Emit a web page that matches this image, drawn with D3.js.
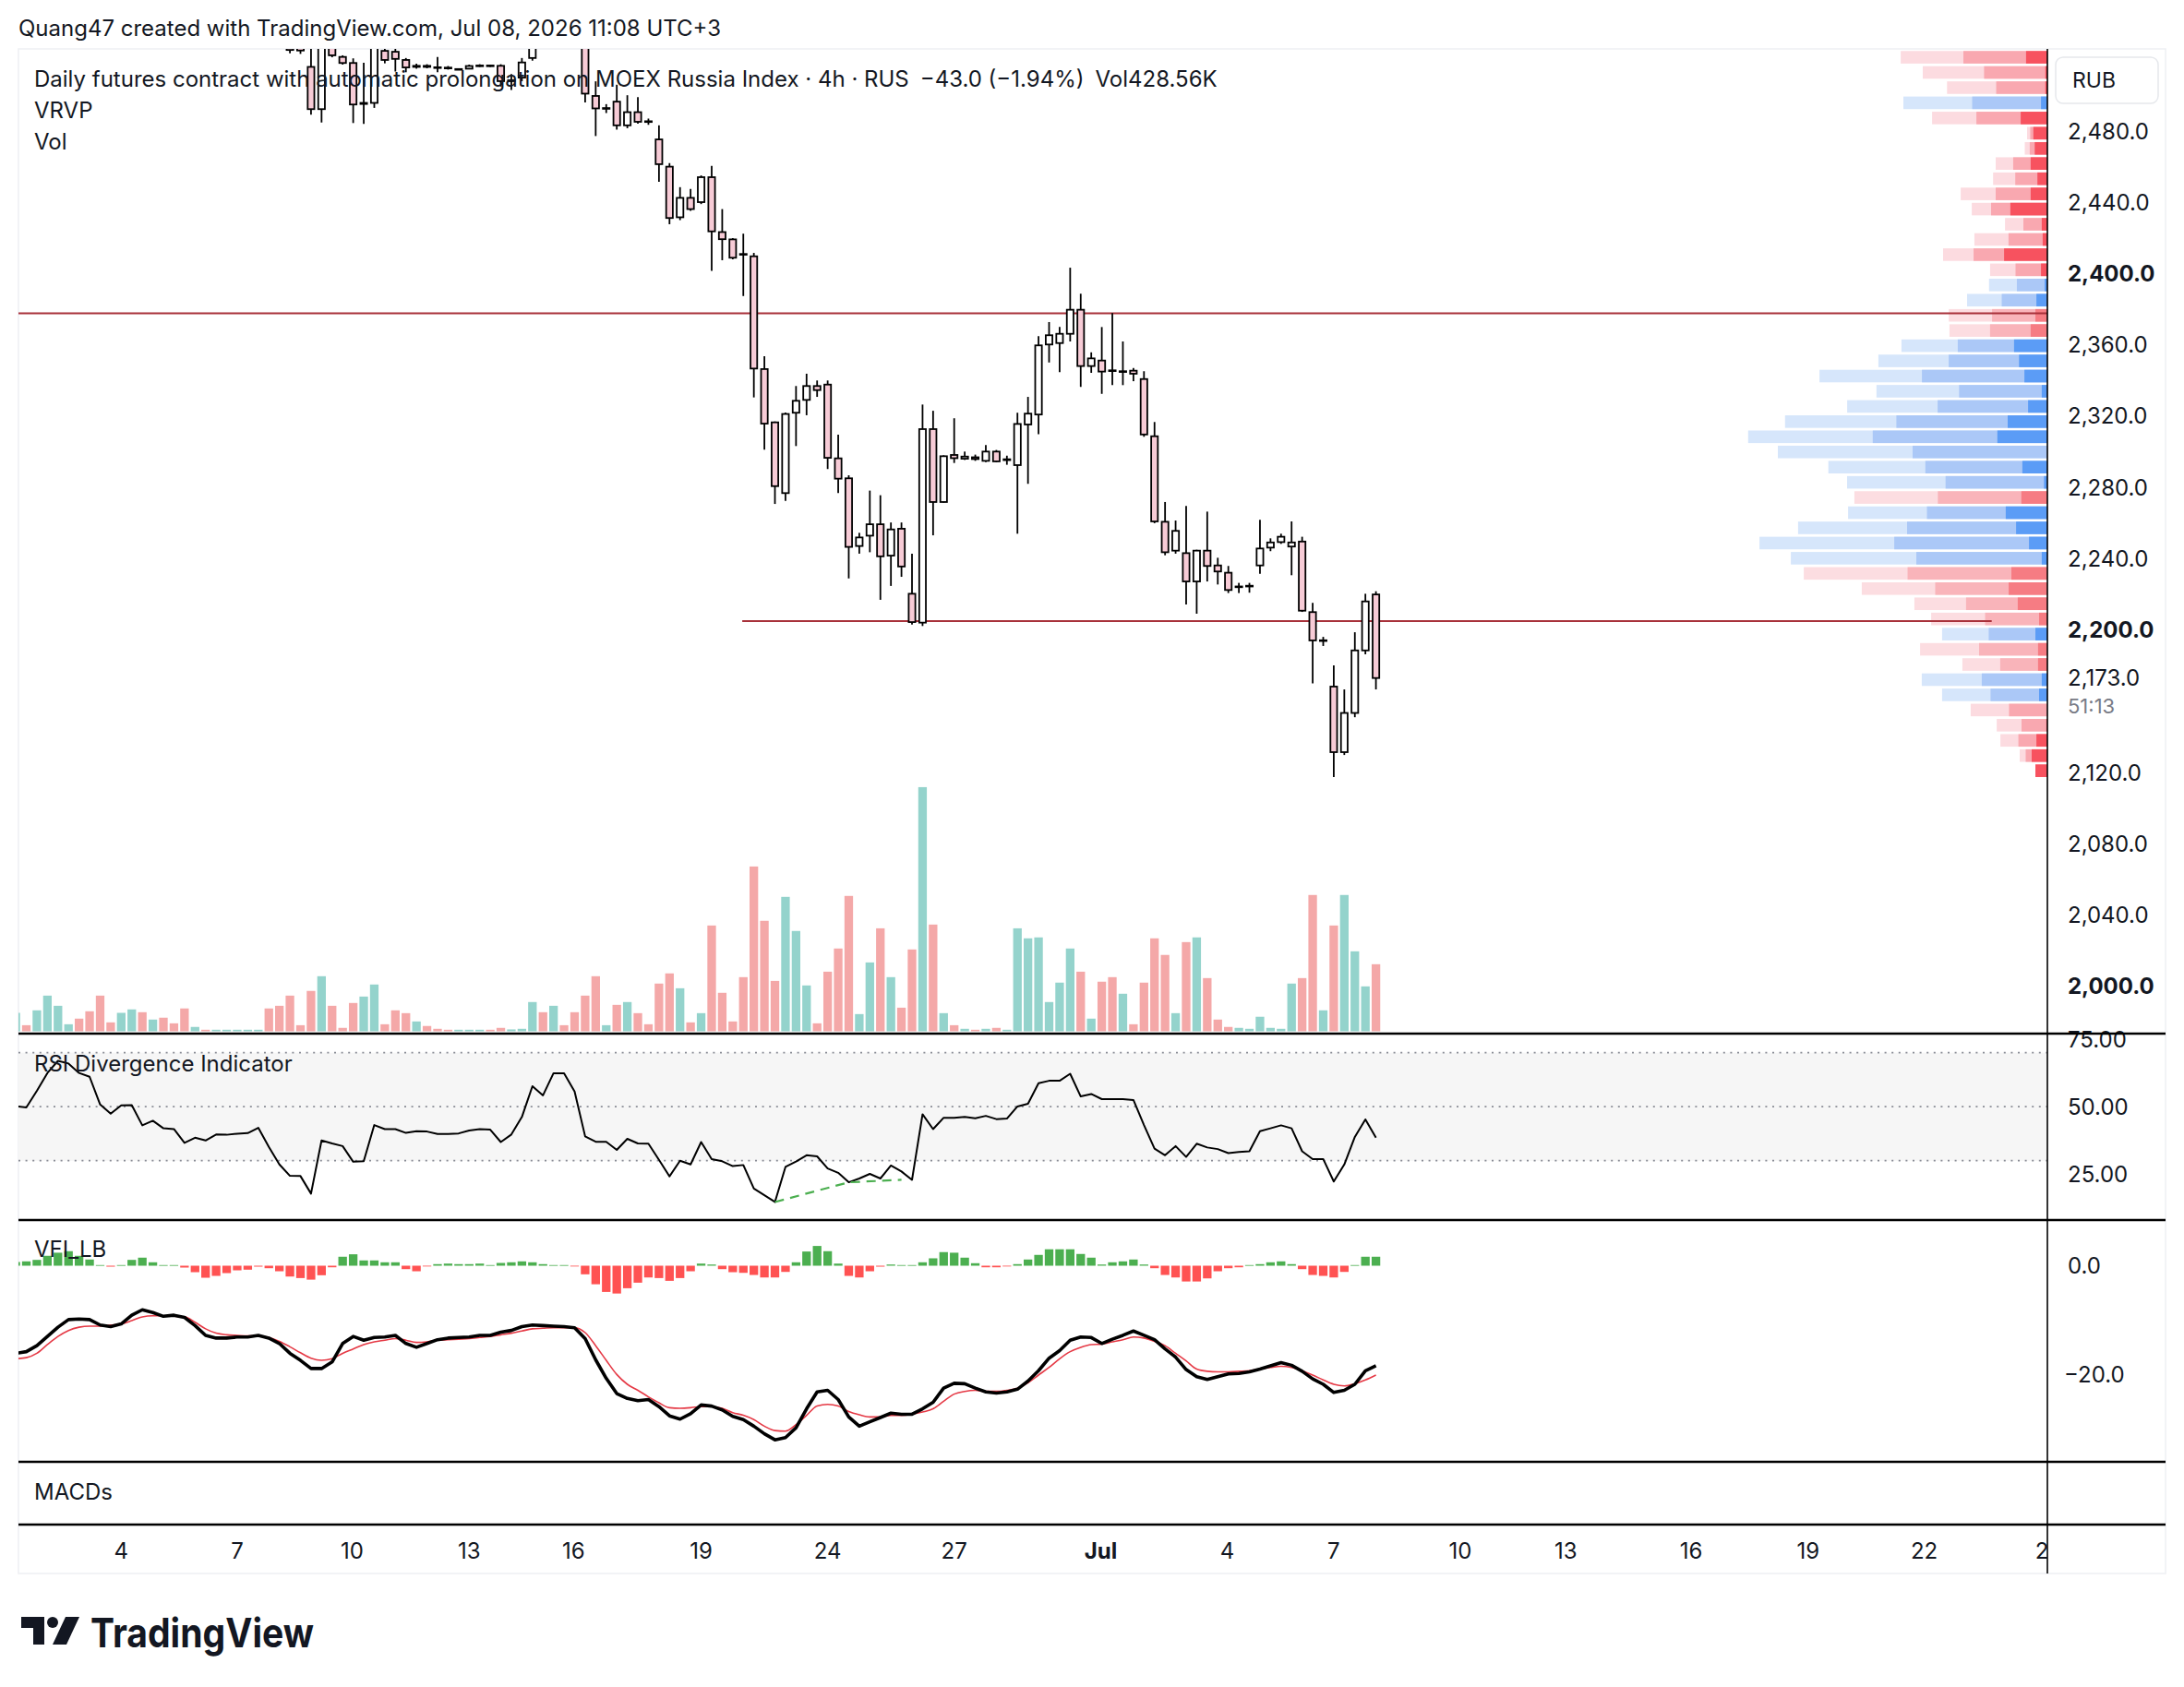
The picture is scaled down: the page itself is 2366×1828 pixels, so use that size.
<!DOCTYPE html>
<html lang="en">
<head>
<meta charset="UTF-8">
<title>MOEX Russia Index futures, 4h</title>
<script src="https://d3js.org/d3.v7.min.js"></script>
<style>
  body { margin: 0; background: #fff; }
  svg text { font-family: Inter, "Noto Sans", sans-serif; fill: #131722; }
</style>
</head>
<body>
<svg id="chart" width="2366" height="1828"></svg>
<script>
// ---- candles (4h bars, oldest first) ----
const opens = [2550,2556,2554,2563,2574,2582,2585,2580,2574,2562,
  2559,2565,2567,2558,2561,2557,2555,2547,2549,2548,
  2549,2549.5,2550,2550.5,2552,2546,2540,2529,2516,2492.3,
  2527,2521.6,2518.2,2495.2,2495.8,2525,2524.5,2519.9,2516,2516.6,
  2515.8,2515.6,2514.5,2515,2516.5,2516.8,2516.6,2508,2510,2521,
  2545,2540,2550,2546,2530,2499.7,2492.5,2496.5,2483.2,2490.6,
  2485.5,2475.3,2460,2431.6,2442.5,2440.1,2454.1,2423.3,2419.2,2411,
  2409.7,2346.4,2316.5,2276.8,2321.9,2329.1,2336.9,2337.7,2296.3,2285.1,
  2247.1,2252.9,2259.3,2241.7,2256.8,2220.3,2204.1,2312.7,2271.8,2298.2,
  2296.1,2296.9,2294.9,2300.1,2295.3,2292.5,2315.3,2320.9,2360.2,2361,
  2366.2,2379.7,2348.1,2351.2,2345.7,2344.9,2345.5,2340.8,2308.7,2260.7,
  2244.5,2243.1,2227.2,2244.5,2236.2,2232.1,2224.1,2224.5,2236.2,2246.2,
  2249.3,2246.8,2249.6,2210,2193.8,2168.2,2131.4,2153.4,2188.5,2219.9];
const highs = [2559,2558,2566,2577,2586,2588,2587,2582,2576,2564,
  2567,2570,2568,2563,2562,2558,2556,2550,2550,2550,
  2550,2551,2551,2553,2553,2547,2542,2533,2527,2534,
  2532,2522.5,2520.8,2518.3,2533,2530,2527,2521,2517.8,2517.5,
  2521.6,2516.5,2515.2,2517.3,2517.5,2517.2,2517.5,2512,2521,2540,
  2552,2556,2553,2550,2535,2507.9,2495.1,2506,2500.1,2499.1,
  2487,2483.2,2462,2448.5,2447.5,2455.1,2460.4,2436.2,2419.9,2422.4,
  2411.6,2353.6,2317,2322,2336.9,2343.8,2340,2340,2309.6,2286.8,
  2254.5,2278.2,2275.6,2260.3,2260.3,2242.8,2326.5,2323,2298,2318.8,
  2300.1,2298.4,2303.7,2301,2297.8,2321.9,2330.8,2364.9,2372.8,2370,
  2403.3,2388.7,2355.8,2370,2377.8,2361.9,2347,2345.2,2316.7,2271.8,
  2261.4,2269.6,2245,2266.4,2240.5,2235.9,2226.4,2226.4,2261.8,2251.4,
  2254,2260.9,2252.3,2215.2,2196.1,2180.1,2166.6,2198.7,2220.3,2221.7];
const lows = [2547,2551,2552,2561,2571,2579,2577,2571,2559,2556,
  2557,2563,2555,2556,2554,2553,2544,2546,2547,2547,
  2548,2549,2549,2550,2543,2536,2523.6,2523.3,2489.2,2484.8,
  2521.4,2517.3,2484.5,2484,2493,2518,2513.4,2513,2515,2515.2,
  2513,2514.5,2514.2,2514.8,2516,2516,2505,2503,2508,2519.5,
  2536,2537,2544,2530,2496,2477.2,2490.1,2480.8,2481.6,2484.1,
  2483.5,2451.5,2427.7,2430,2435.2,2439,2401.5,2407.5,2408,2387.4,
  2330.5,2301.2,2270.7,2272.4,2303.2,2320.5,2330.8,2290.3,2276.8,2228.9,
  2242.8,2243.6,2216.9,2224.7,2229.8,2203,2202.2,2253.1,2271.5,2293.7,
  2295.4,2294.9,2294.2,2294.2,2292.7,2254,2282,2309.8,2350.1,2344.7,
  2361.9,2336.4,2344.3,2332.5,2337.4,2337.4,2339.6,2308.4,2259.9,2241.9,
  2242.8,2214.3,2209.1,2227.2,2225.5,2220.7,2220.7,2220.9,2231.5,2244.2,
  2248.3,2230.7,2210.1,2170,2191,2117.4,2129.8,2151,2186.3,2166.6];
const closes = [2556,2554,2563,2574,2582,2585,2580,2574,2562,2559,
  2565,2567,2558,2561,2557,2555,2547,2549,2548,2549,
  2549.5,2550,2550.5,2552,2546,2540,2525.5,2525.2,2492.3,2530,
  2522.5,2518.2,2494.9,2495.8,2529,2519.9,2520.5,2515.7,2516.6,2516,
  2515.4,2515.2,2514.8,2516.5,2516.8,2516.5,2508,2508.5,2518.5,2535,
  2540,2550,2546,2534,2501,2492.7,2492.9,2483.2,2490.6,2485.2,
  2485.2,2461.4,2431.2,2442.5,2436.2,2454.1,2423.7,2419.3,2408.9,2410.7,
  2346.7,2315.8,2280.7,2321.2,2328.6,2336.9,2334.6,2296.6,2284.9,2246.6,
  2251.9,2259.3,2241.3,2256.4,2235.6,2204.4,2312.7,2271.8,2297.5,2296.4,
  2297.3,2295.9,2300.1,2294.6,2295.8,2315.6,2321.4,2359.7,2365.4,2366.2,
  2379.7,2348.1,2352.4,2345,2345.3,2345.2,2343.8,2309.7,2260.9,2243.6,
  2255.6,2227.2,2244.5,2235.9,2232.8,2222.4,2224.4,2224.8,2245.7,2249.1,
  2252.3,2249.1,2210.8,2194.1,2194.2,2131.4,2153.4,2188.5,2216,2173];
// volume, thousands
const volumes = [118,39,134,228,163,45,81,128,228,57,
  118,140,122,75,87,51,146,28,10,10,
  10,10,10,10,146,163,228,39,258,352,
  163,22,181,222,299,45,134,116,63,34,
  16,10,10,10,10,10,22,12,16,187,
  122,163,39,122,228,352,39,169,187,116,
  45,305,370,275,57,116,676,246,63,346,
  1053,706,322,859,641,293,51,381,529,865,
  110,440,658,346,151,523,1560,682,116,39,
  16,10,16,22,10,658,594,600,187,311,
  529,381,81,317,346,240,45,311,594,488,
  116,570,600,340,75,28,22,16,93,22,
  16,305,340,871,134,676,871,511,287,428.56];

// ---- RSI Divergence Indicator ----
const rsi = [50.2,49.7,55.9,62.5,67.0,66.0,62.5,61.1,50.8,47.4,
  50.5,50.6,43.1,44.8,42.0,41.7,36.6,38.5,37.5,39.7,
  39.6,40.0,40.2,42.2,35.1,28.6,24.4,24.3,17.8,37.5,
  36.4,35.4,29.6,29.8,43.2,41.7,41.7,40.3,40.9,40.8,
  39.9,39.9,40.1,41.2,41.7,41.5,36.9,39.7,46.2,57.6,
  54.2,62.4,62.4,55.6,39.0,37.0,37.0,34.0,38.1,36.4,
  36.3,30.3,24.2,30.0,28.6,36.9,30.6,29.8,28.0,28.4,
  19.7,17.2,14.7,27.7,29.7,32.0,31.6,27.1,25.5,22.0,
  23.4,25.1,23.4,28.2,26.0,22.9,47.2,41.7,45.9,45.9,
  46.2,45.7,46.6,45.4,45.6,50.1,51.1,58.7,59.6,59.6,
  62.2,53.8,54.7,52.8,52.8,52.8,52.5,43.2,34.5,32.0,
  35.4,31.4,36.3,34.9,34.3,32.8,33.2,33.5,40.9,42.0,
  43.1,42.0,33.5,30.6,30.6,22.3,28.6,38.8,45.3,38.5];
const rsiBullDiv = [[72, 14.7], [79, 22.0], [84, 22.9]];

// ---- VFI_LB ----
const vfi = [-16.1,-15.8,-14.7,-13.0,-11.3,-9.9,-9.8,-9.9,-10.9,-11.2,
  -10.7,-9.1,-8.1,-8.6,-9.3,-9.1,-9.5,-11.0,-12.8,-13.3,
  -13.3,-13.1,-13.1,-12.8,-13.3,-14.3,-16.1,-17.4,-18.9,-18.9,
  -17.7,-14.3,-13.0,-13.7,-13.2,-13.1,-12.8,-14.3,-15.0,-14.3,
  -13.6,-13.3,-13.2,-13.1,-12.8,-12.8,-12.2,-11.9,-11.2,-10.9,
  -11.0,-11.1,-11.2,-11.4,-13.4,-17.3,-20.7,-23.5,-24.4,-24.8,
  -24.6,-25.9,-27.6,-28.2,-27.2,-25.6,-25.8,-26.5,-27.7,-28.3,
  -29.5,-30.9,-32.0,-31.6,-29.8,-26.3,-23.2,-22.9,-24.6,-27.8,
  -29.5,-28.7,-27.9,-27.1,-27.3,-27.3,-26.3,-25.1,-22.5,-21.6,
  -21.7,-22.5,-23.2,-23.4,-23.2,-22.7,-21.2,-19.3,-17.0,-15.6,
  -13.7,-13.1,-13.2,-14.3,-13.5,-12.8,-12.0,-12.8,-13.6,-15.3,
  -16.8,-19.1,-20.4,-20.9,-20.4,-19.9,-19.8,-19.5,-19.0,-18.4,
  -17.8,-18.3,-19.4,-20.8,-21.8,-23.3,-22.9,-21.8,-19.3,-18.4];
const vfiSignal = [-17.1,-16.9,-16.1,-14.5,-13.0,-11.9,-11.3,-11.1,-11.1,-10.9,
  -10.7,-10.1,-9.4,-9.2,-9.2,-9.3,-9.4,-10.4,-11.6,-12.4,
  -12.7,-12.8,-12.9,-12.9,-13.2,-13.9,-14.9,-16.0,-17.0,-17.4,
  -17.1,-16.1,-15.3,-14.5,-14.0,-13.7,-13.4,-13.7,-14.1,-14.0,
  -13.7,-13.6,-13.5,-13.4,-13.2,-13.0,-12.7,-12.4,-12.0,-11.6,
  -11.5,-11.4,-11.4,-11.4,-12.3,-14.7,-17.4,-20.0,-21.8,-22.9,
  -24.1,-25.2,-26.1,-26.2,-26.1,-25.9,-25.9,-26.2,-27.0,-27.5,
  -28.3,-29.5,-30.3,-30.4,-29.2,-27.5,-25.8,-25.5,-25.8,-26.8,
  -27.4,-27.8,-27.8,-27.5,-27.5,-27.3,-26.9,-26.3,-24.9,-23.6,
  -23.1,-22.9,-23.1,-23.1,-22.9,-22.5,-21.5,-20.1,-18.7,-17.1,
  -15.8,-15.0,-14.5,-14.4,-14.0,-13.6,-13.1,-13.3,-13.9,-14.7,
  -16.1,-17.5,-19.0,-19.4,-19.5,-19.5,-19.4,-19.3,-19.0,-18.7,
  -18.5,-18.7,-19.3,-20.1,-21.0,-21.8,-22.1,-21.7,-21.0,-20.1];
const vfiHist = [0.68,0.80,1.07,1.82,2.39,2.67,1.82,1.14,0.12,-0.17,
  0.12,1.07,1.48,0.63,0.12,0.12,-0.34,-1.19,-2.21,-1.87,
  -1.36,-0.85,-0.73,-0.17,-0.46,-1.02,-1.99,-2.27,-2.56,-1.75,
  -0.29,1.65,2.10,0.97,0.97,0.63,0.63,-0.63,-1.02,-0.05,
  0.29,0.39,0.29,0.29,0.39,0.12,0.51,0.63,0.80,0.63,
  0.29,0.12,0.12,-0.05,-1.58,-3.41,-4.82,-5.11,-4.14,-3.12,
  -2.16,-2.27,-2.78,-2.27,-1.02,0.39,0.22,-0.63,-1.19,-1.31,
  -1.70,-2.16,-2.16,-1.14,0.63,2.61,3.63,2.67,0.39,-1.87,
  -2.16,-1.02,-0.17,0.22,0.12,0.12,0.63,1.36,2.50,2.39,
  1.48,0.46,-0.29,-0.29,-0.12,0.29,1.14,1.99,3.02,3.02,
  3.02,2.16,1.48,0.22,0.63,0.80,1.14,0.22,-0.46,-1.70,
  -2.16,-2.90,-2.90,-2.33,-1.02,-0.46,-0.29,0.12,0.29,0.63,
  0.80,0.29,-0.63,-1.70,-1.87,-2.16,-1.14,0.12,1.65,1.65];

// ---- visible range volume profile, rows from top to bottom ----
const vpTopPrice = 2521.4, vpRowSize = 8.52;
const vpTotal = [158.9,135.0,108.7,156.0,124.9,22.0,24.5,56.0,58.8,93.9,
  81.9,45.9,79.1,113.0,62.1,63.2,87.0,106.8,106.1,158.1,
  183.1,246.9,185.2,216.9,284.2,324.2,292.0,237.3,217.0,209.1,
  215.9,270.1,311.9,277.9,263.9,201.1,144.1,125.9,114.1,137.9,
  92.1,136.1,114.1,83.1,54.9,50.9,30.0,13.0];
const vpDelta = [23.1,2.2,2.2,6.9,28.9,15.2,13.7,18.1,10.8,18.1,
  40.1,6.1,5.1,46.9,6.9,2.9,11.9,13.0,18.1,36.1,
  30.7,24.9,6.1,20.9,43.0,54.2,0,27.1,3.6,28.2,
  45.1,33.9,19.9,6.1,39.0,41.9,32.1,9.0,13.0,10.1,
  10.1,6.1,9.0,0,1.1,11.9,17.0,13.0];
const vpSide = ["d","d","d","u","d","d","d","d","d","d",
  "d","d","d","d","d","u","u","d","d","u",
  "u","u","u","u","u","u","u","u","u","d",
  "u","u","u","u","d","d","d","d","u","d",
  "d","u","u","d","d","d","d","d"];
const vpValueArea = [17, 40];

// ---- drawn levels ----
const levels = [{ price: 2377.7, from: -2, to: 200 }, { price: 2205, from: 68.9, to: 187.4 }];

// ---- axes ----
const priceTicks = [2480, 2440, 2400, 2360, 2320, 2280, 2240, 2200, 2120, 2080, 2040, 2000];
const boldPrices = [2400, 2200, 2000];
const lastPrice = 2173.0, countdown = "51:13";
const rsiTicks = [75, 50, 25];
const vfiTicks = [0, -20];
const dateTickIndex = [10, 21, 31.9, 43, 52.9, 65, 77, 89, 102.9, 114.9, 125, 137, 147, 158.9, 170, 181, 192.8];
const dateTickLabels = ["4", "7", "10", "13", "16", "19", "24", "27", "Jul", "4", "7", "10", "13", "16", "19", "22", "25"];

const svg = d3.select("#chart");
const L = 20, R = 2346, AX = 2218;
const paneMain = [53, 1119], paneRsi = [1120, 1321], paneVfi = [1322, 1583];
const labelSize = "24px";

const x = d3.scaleLinear().domain([0, 129]).range([17.1, 1490.6]);
const y = d3.scaleLinear().domain([2000, 2480]).range([1068.7, 142]);
const yVol = d3.scaleLinear().domain([0, 1000]).range([1117.5, 947.9]);
const yR = d3.scaleLinear().domain([30, 70]).range([1257.7, 1140.7]);
const yV = d3.scaleLinear().domain([-20, 0]).range([1489.4, 1371.5]);
const vpW = d3.scaleLinear().domain([0, 100]).range([0, 100]);

const defs = svg.append("defs");
function clip(id, x0, y0, x1, y1) {
  defs.append("clipPath").attr("id", id).append("rect")
    .attr("x", x0).attr("y", y0).attr("width", x1 - x0).attr("height", y1 - y0);
}
clip("cMain", L, paneMain[0], AX, paneMain[1]);
clip("cRsi", L, paneRsi[0], AX, paneRsi[1]);
clip("cVfi", L, paneVfi[0], AX, paneVfi[1]);
clip("cTime", L, 1653, AX, 1705);

// frame
svg.append("rect").attr("x", L).attr("y", 53).attr("width", R - L).attr("height", 1705 - 53)
  .attr("fill", "none").attr("stroke", "#eef0f3").attr("stroke-width", 1.5);

svg.append("text").attr("x", 20).attr("y", 30).attr("dominant-baseline", "central")
  .style("font-size", labelSize).text("Quang47 created with TradingView.com, Jul 08, 2026 11:08 UTC+3");

const bars = closes.map((c, i) => ({ i, o: opens[i], h: highs[i], l: lows[i], c, v: volumes[i] }));
const up = d => d.c >= d.o;

// main pane
const gMain = svg.append("g").attr("clip-path", "url(#cMain)");

gMain.selectAll(".vol").data(bars).join("rect")
  .attr("x", d => x(d.i) - 4.65).attr("width", 9.3)
  .attr("y", d => yVol(d.v)).attr("height", d => yVol(0) - yVol(d.v))
  .attr("fill", d => up(d) ? "#94d3cc" : "#f4a8a8");

// volume profile
const vpRows = vpTotal.map((t, r) => ({ r, t, d: vpDelta[r], side: vpSide[r], p: vpTopPrice - r * vpRowSize }));
const rowH = 13.6;
const vpG = gMain.append("g");
vpRows.forEach(row => {
  const inVA = row.r >= vpValueArea[0] && row.r <= vpValueArea[1];
  const pal = row.side === "u" ? ["#d6e6fb", "#abc8f7", "#5b9cf6"]
    : (inVA ? ["#fcdde1", "#f9b4ba", "#f67c83"] : ["#fcdbe0", "#f9a8b0", "#f7525f"]);
  const yc = y(row.p);
  const half = (row.t - row.d) / 2;
  [[row.t, pal[0]], [row.d + half, pal[1]], [row.d, pal[2]]].forEach(([w, col]) => {
    if (w <= 0) return;
    vpG.append("rect").attr("x", AX - vpW(w)).attr("width", vpW(w))
      .attr("y", yc - rowH / 2).attr("height", rowH).attr("fill", col);
  });
});

// levels
levels.forEach(lv => {
  gMain.append("line")
    .attr("x1", Math.max(L, x(lv.from))).attr("x2", Math.min(AX, x(lv.to)))
    .attr("y1", y(lv.price)).attr("y2", y(lv.price))
    .attr("stroke", "#a8313a").attr("stroke-width", 2);
});

gMain.selectAll(".wick").data(bars).join("line")
  .attr("x1", d => x(d.i)).attr("x2", d => x(d.i))
  .attr("y1", d => y(d.h)).attr("y2", d => y(d.l))
  .attr("stroke", "#000").attr("stroke-width", 1.8);

gMain.selectAll(".body").data(bars).join("rect")
  .attr("x", d => x(d.i) - 3.6).attr("width", 7.2)
  .attr("y", d => y(Math.max(d.o, d.c)))
  .attr("height", d => Math.max(0.8, Math.abs(y(d.o) - y(d.c))))
  .attr("fill", d => up(d) ? "#ffffff" : "#f7cbd6")
  .attr("stroke", "#000").attr("stroke-width", 1.8);

// legends
const leg = svg.append("text").attr("x", 37).attr("y", 85).attr("dominant-baseline", "central").style("font-size", labelSize);
leg.append("tspan").text("Daily futures contract with automatic prolongation on MOEX Russia Index · 4h · RUS");
leg.append("tspan").attr("dx", 12).text("−43.0 (−1.94%)");
leg.append("tspan").attr("dx", 12).text("Vol428.56K");
svg.append("text").attr("x", 37).attr("y", 119).attr("dominant-baseline", "central").style("font-size", labelSize).text("VRVP");
svg.append("text").attr("x", 37).attr("y", 153).attr("dominant-baseline", "central").style("font-size", labelSize).text("Vol");

// RSI pane
const gR = svg.append("g").attr("clip-path", "url(#cRsi)");
gR.append("rect").attr("x", L).attr("width", AX - L).attr("y", yR(70)).attr("height", yR(30) - yR(70)).attr("fill", "#f6f6f6");
[70, 50, 30].forEach(v => gR.append("line").attr("x1", L).attr("x2", AX).attr("y1", yR(v)).attr("y2", yR(v))
  .attr("stroke", "#8a8d96").attr("stroke-width", 1.8).attr("stroke-dasharray", "2,5.6"));
gR.append("path").datum(rsi)
  .attr("d", d3.line().x((d, i) => x(i)).y(d => yR(d)))
  .attr("fill", "none").attr("stroke", "#000").attr("stroke-width", 2).attr("stroke-linejoin", "round");
gR.append("path").datum(rsiBullDiv)
  .attr("d", d3.line().x(d => x(d[0])).y(d => yR(d[1])))
  .attr("fill", "none").attr("stroke", "#4caf50").attr("stroke-width", 2.2).attr("stroke-dasharray", "10,7");
svg.append("text").attr("x", 37).attr("y", 1152).attr("dominant-baseline", "central").style("font-size", labelSize).text("RSI Divergence Indicator");

// VFI pane
const gV = svg.append("g").attr("clip-path", "url(#cVfi)");
gV.selectAll(".hist").data(vfiHist).join("rect")
  .attr("x", (d, i) => x(i) - 4.65).attr("width", 9.3)
  .attr("y", d => Math.min(yV(d), yV(0))).attr("height", d => Math.max(0.8, Math.abs(yV(d) - yV(0))))
  .attr("fill", d => d >= 0 ? "#4caf50" : "#ff5252");
gV.append("path").datum(vfiSignal)
  .attr("d", d3.line().curve(d3.curveMonotoneX).x((d, i) => x(i)).y(d => yV(d)))
  .attr("fill", "none").attr("stroke", "#e53945").attr("stroke-width", 1.6);
gV.append("path").datum(vfi)
  .attr("d", d3.line().x((d, i) => x(i)).y(d => yV(d)))
  .attr("fill", "none").attr("stroke", "#000").attr("stroke-width", 3.6).attr("stroke-linejoin", "round");
svg.append("text").attr("x", 37).attr("y", 1353).attr("dominant-baseline", "central").style("font-size", labelSize).text("VFI_LB");

// MACDs pane
svg.append("text").attr("x", 37).attr("y", 1616).attr("dominant-baseline", "central").style("font-size", labelSize).text("MACDs");

// price axis
const fmtP = d3.format(",.1f");
const pAx = svg.append("g");
priceTicks.forEach(p => pAx.append("text").attr("x", 2240).attr("y", y(p)).attr("dominant-baseline", "central")
  .style("font-size", "24px").style("font-weight", boldPrices.includes(p) ? 700 : 400).text(fmtP(p)));
pAx.append("text").attr("x", 2240).attr("y", y(lastPrice)).attr("dominant-baseline", "central")
  .style("font-size", "24px").text(fmtP(lastPrice));
pAx.append("text").attr("x", 2240).attr("y", y(lastPrice) + 30).attr("dominant-baseline", "central")
  .style("font-size", "22px").style("fill", "#787b86").text(countdown);
pAx.append("rect").attr("x", 2227).attr("y", 62).attr("width", 111).attr("height", 50).attr("rx", 8)
  .attr("fill", "#fff").attr("stroke", "#e6e8ec").attr("stroke-width", 1.5);
pAx.append("text").attr("x", 2245).attr("y", 87).attr("dominant-baseline", "central").style("font-size", "23px").text("RUB");
rsiTicks.forEach(v => pAx.append("text").attr("x", 2240).attr("y", yR(v)).attr("dominant-baseline", "central")
  .style("font-size", "24px").text(d3.format(".2f")(v)));
vfiTicks.forEach(v => pAx.append("text").attr("x", v < 0 ? 2236 : 2240).attr("y", yV(v)).attr("dominant-baseline", "central")
  .style("font-size", "24px").text(d3.format(".1f")(v)));

// time axis
const tAx = svg.append("g").attr("clip-path", "url(#cTime)");
dateTickIndex.forEach((ix, k) => tAx.append("text").attr("x", x(ix)).attr("y", 1680)
  .attr("text-anchor", "middle").attr("dominant-baseline", "central")
  .style("font-size", labelSize).style("font-weight", dateTickLabels[k] === "Jul" ? 700 : 400)
  .text(dateTickLabels[k]));

// separators
[1120, 1322, 1584, 1652].forEach(yy => svg.append("line").attr("x1", L).attr("x2", R)
  .attr("y1", yy).attr("y2", yy).attr("stroke", "#000").attr("stroke-width", 2.6));
svg.append("line").attr("x1", AX).attr("x2", AX).attr("y1", 53).attr("y2", 1705)
  .attr("stroke", "#000").attr("stroke-width", 1.6);

// logo
const logo = svg.append("g");
logo.append("path").attr("d", "M23 1752 H48 V1782 H36 V1764 H23 Z").attr("fill", "#131722");
logo.append("circle").attr("cx", 57).attr("cy", 1758).attr("r", 6).attr("fill", "#131722");
logo.append("path").attr("d", "M71 1752 H86 L72 1782 H57 Z").attr("fill", "#131722");
logo.append("text").attr("x", 98).attr("y", 1785).attr("textLength", 242).attr("lengthAdjust", "spacingAndGlyphs")
  .style("font-size", "44px").style("font-weight", 700).text("TradingView");
</script>
</body>
</html>
